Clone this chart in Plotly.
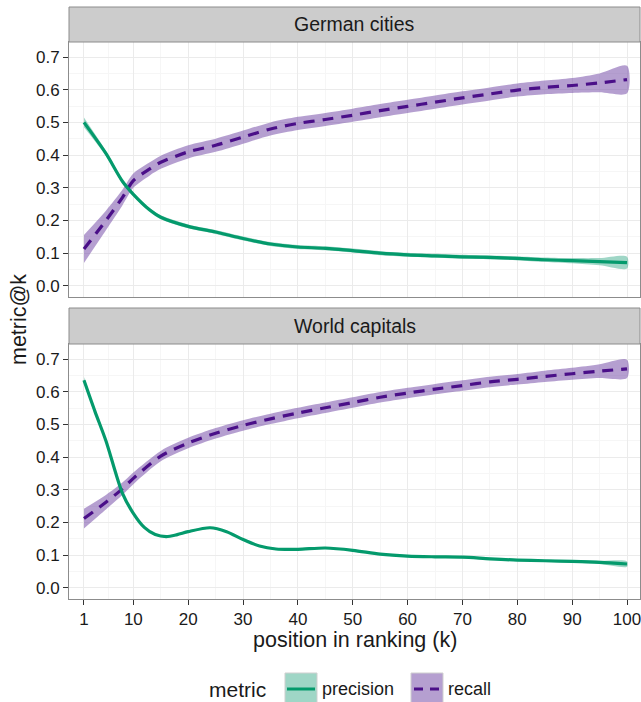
import plotly.graph_objects as go

# ---------------- data ----------------
k_de = [1, 5, 8, 10, 13, 15, 20, 25, 30, 35, 40, 45, 50, 55, 60, 65, 70, 75, 80, 85, 90, 95, 100]
prec_de = [0.50, 0.405, 0.32, 0.28, 0.232, 0.21, 0.182, 0.165, 0.145, 0.128, 0.119, 0.115, 0.108,
           0.100, 0.095, 0.092, 0.089, 0.087, 0.084, 0.080, 0.077, 0.074, 0.071]
prec_de_se = [0.015, 0.008, 0.006, 0.006, 0.006, 0.006, 0.006, 0.006, 0.006, 0.006, 0.006, 0.006,
              0.006, 0.006, 0.006, 0.006, 0.006, 0.006, 0.006, 0.007, 0.008, 0.011, 0.018]
rec_de = [0.113, 0.20, 0.27, 0.322, 0.358, 0.378, 0.41, 0.43, 0.455, 0.48, 0.497, 0.509, 0.522,
          0.536, 0.549, 0.562, 0.575, 0.587, 0.599, 0.607, 0.613, 0.621, 0.631]
rec_de_se = [0.043, 0.030, 0.024, 0.022, 0.020, 0.020, 0.020, 0.020, 0.020, 0.020, 0.020, 0.020,
             0.020, 0.020, 0.020, 0.020, 0.020, 0.020, 0.020, 0.021, 0.023, 0.029, 0.042]

k_wc_p = [1, 3, 5, 8, 10, 12, 14, 16, 18, 20, 24, 27, 30, 33, 36, 40, 45, 50, 55, 60, 65, 70,
          75, 80, 85, 90, 95, 100]
prec_wc = [0.635, 0.54, 0.45, 0.29, 0.228, 0.185, 0.163, 0.157, 0.163, 0.172, 0.184, 0.172,
           0.148, 0.128, 0.119, 0.118, 0.122, 0.115, 0.103, 0.097, 0.095, 0.094, 0.089, 0.085,
           0.083, 0.081, 0.078, 0.073]
prec_wc_se = [0.010, 0.005, 0.004, 0.003, 0.003, 0.003, 0.003, 0.003, 0.003, 0.003, 0.003, 0.003,
              0.003, 0.003, 0.003, 0.003, 0.003, 0.003, 0.003, 0.003, 0.003, 0.003, 0.003, 0.003,
              0.003, 0.004, 0.005, 0.008]

k_wc_r = [1, 5, 8, 10, 15, 20, 25, 30, 35, 40, 45, 50, 55, 60, 65, 70, 75, 80, 85, 90, 95, 100]
rec_wc = [0.212, 0.262, 0.303, 0.335, 0.403, 0.443, 0.473, 0.497, 0.517, 0.535, 0.551, 0.567,
          0.583, 0.596, 0.608, 0.619, 0.630, 0.638, 0.647, 0.655, 0.663, 0.670]
rec_wc_se = [0.030, 0.022, 0.019, 0.018, 0.016, 0.016, 0.016, 0.016, 0.016, 0.016, 0.016, 0.016,
             0.016, 0.016, 0.016, 0.016, 0.016, 0.016, 0.017, 0.018, 0.021, 0.028]

facets = ["German cities", "World capitals"]
metrics = ["precision", "recall"]
x_ticks = [1, 10, 20, 30, 40, 50, 60, 70, 80, 90, 100]
x_minor = [5.5, 15, 25, 35, 45, 55, 65, 75, 85, 95]
y_ticks = [0.0, 0.1, 0.2, 0.3, 0.4, 0.5, 0.6, 0.7]
y_minor = [0.05, 0.15, 0.25, 0.35, 0.45, 0.55, 0.65]

# ---------------- styles ----------------
W, H = 641, 702
GREEN = "#049a6c"
GREEN_FILL = "rgba(27,158,119,0.42)"
PURPLE = "#4a0f88"
PURPLE_FILL = "rgba(120,80,170,0.55)"
FONT = "Liberation Sans, Arial, sans-serif"
TXT = "#1a1a1a"

def px(x):
    return x / W

def py(y):
    return 1 - y / H

fig = go.Figure()

def add_series(k, mid, se, xa, ya, line_color, fill_color, dash):
    up = [m + s for m, s in zip(mid, se)]
    lo = [m - s for m, s in zip(mid, se)]
    fig.add_trace(go.Scatter(
        x=k + k[::-1], y=up + lo[::-1], xaxis=xa, yaxis=ya,
        fill="toself", fillcolor=fill_color, mode="lines",
        line=dict(width=0, shape="spline", smoothing=0.8),
        hoverinfo="skip", showlegend=False))
    fig.add_trace(go.Scatter(
        x=k, y=mid, xaxis=xa, yaxis=ya, mode="lines",
        line=dict(color=line_color, width=3.2, dash=dash, shape="spline", smoothing=0.8),
        showlegend=False))

# top panel: German cities (x, y) ; bottom: World capitals (x2, y2)
add_series(k_de, rec_de, rec_de_se, "x", "y", PURPLE, PURPLE_FILL, "11px,8px")
add_series(k_de, prec_de, prec_de_se, "x", "y", GREEN, GREEN_FILL, "solid")
add_series(k_wc_r, rec_wc, rec_wc_se, "x2", "y2", PURPLE, PURPLE_FILL, "11px,8px")
add_series(k_wc_p, prec_wc, prec_wc_se, "x2", "y2", GREEN, GREEN_FILL, "solid")

L, R = 69, 640
top_panel = (42, 297)
bot_panel = (344, 599)
xr = [-1.73, 102.37]
yr = [-0.034, 0.746]

axis_common = dict(
    range=xr, showline=True, mirror=True, linecolor="#8c8c8c", linewidth=1,
    gridcolor="#ebebeb", gridwidth=1.1, zeroline=False,
    tickmode="array", tickvals=x_ticks, ticks="outside", ticklen=5, tickcolor="#333",
    tickwidth=1, ticklabeloverflow="allow",
    minor=dict(tickmode="array", tickvals=x_minor, showgrid=True, gridcolor="#f6f6f6",
               gridwidth=0.6, ticks=""),
    tickfont=dict(family=FONT, size=17, color=TXT),
)
yaxis_common = dict(
    range=yr, showline=True, mirror=True, linecolor="#8c8c8c", linewidth=1,
    gridcolor="#ebebeb", gridwidth=1.1, zeroline=False,
    tickmode="array", tickvals=y_ticks, ticktext=[f"{v:.1f}" for v in y_ticks],
    ticks="outside", ticklen=5, tickcolor="#333", tickwidth=1,
    minor=dict(tickmode="array", tickvals=y_minor, showgrid=True, gridcolor="#f6f6f6",
               gridwidth=0.6, ticks=""),
    tickfont=dict(family=FONT, size=17, color=TXT),
)

fig.update_layout(
    width=W, height=H,
    margin=dict(l=0, r=0, t=0, b=0),
    paper_bgcolor="white", plot_bgcolor="white",
    showlegend=False,
    xaxis=dict(axis_common, domain=[px(L), px(R)], anchor="y", showticklabels=False,
               ticks=""),
    yaxis=dict(yaxis_common, domain=[py(top_panel[1]), py(top_panel[0])], anchor="x"),
    xaxis2=dict(axis_common, domain=[px(L), px(R)], anchor="y2"),
    yaxis2=dict(yaxis_common, domain=[py(bot_panel[1]), py(bot_panel[0])], anchor="x2"),
)

shapes = []
annotations = []
# strips
for name, (y0, y1) in zip(facets, [(7, 42), (308, 344)]):
    shapes.append(dict(type="rect", xref="paper", yref="paper", x0=px(L), x1=px(R),
                       y0=py(y1), y1=py(y0), fillcolor="#cccccc",
                       line=dict(color="#8c8c8c", width=1), layer="above"))
    annotations.append(dict(text=name, xref="paper", yref="paper", x=px((L + R) / 2),
                            y=py((y0 + y1) / 2), showarrow=False, xanchor="center",
                            yanchor="middle", font=dict(family=FONT, size=19.5, color=TXT)))

# axis titles
annotations.append(dict(text="position in ranking (k)", xref="paper", yref="paper",
                        x=px(355), y=py(640), showarrow=False, xanchor="center",
                        yanchor="middle", font=dict(family=FONT, size=21.5, color=TXT)))
annotations.append(dict(text="metric@k", xref="paper", yref="paper", x=px(19), y=py(320),
                        showarrow=False, textangle=-90, xanchor="center", yanchor="middle",
                        font=dict(family=FONT, size=21.5, color=TXT)))

# legend (drawn manually)
annotations.append(dict(text="metric", xref="paper", yref="paper", x=px(207), y=py(689),
                        showarrow=False, xanchor="left", yanchor="middle",
                        font=dict(family=FONT, size=21, color=TXT)))
leg = [(metrics[0], 285, GREEN, GREEN_FILL, "solid"),
       (metrics[1], 411, PURPLE, PURPLE_FILL, "dash")]
for label, x0, lc, fc, dash in leg:
    shapes.append(dict(type="rect", xref="paper", yref="paper", x0=px(x0), x1=px(x0 + 32),
                       y0=py(704), y1=py(673), fillcolor=fc,
                       line=dict(color="#cfcfcf", width=1)))
    if dash == "solid":
        shapes.append(dict(type="line", xref="paper", yref="paper", x0=px(x0 + 2),
                           x1=px(x0 + 30), y0=py(689), y1=py(689),
                           line=dict(color=lc, width=3)))
    else:
        for a, b in [(x0 + 3, x0 + 12), (x0 + 19, x0 + 28)]:
            shapes.append(dict(type="line", xref="paper", yref="paper", x0=px(a), x1=px(b),
                               y0=py(689), y1=py(689), line=dict(color=lc, width=3)))
    annotations.append(dict(text=label, xref="paper", yref="paper", x=px(x0 + 35),
                            y=py(689), showarrow=False, xanchor="left", yanchor="middle",
                            font=dict(family=FONT, size=18, color=TXT)))

fig.update_layout(shapes=shapes, annotations=annotations)
fig.write_html(
    "out.html",
    config={"displayModeBar": False},
    post_script="document.body.style.margin='0';document.body.style.overflow='hidden';",
)
